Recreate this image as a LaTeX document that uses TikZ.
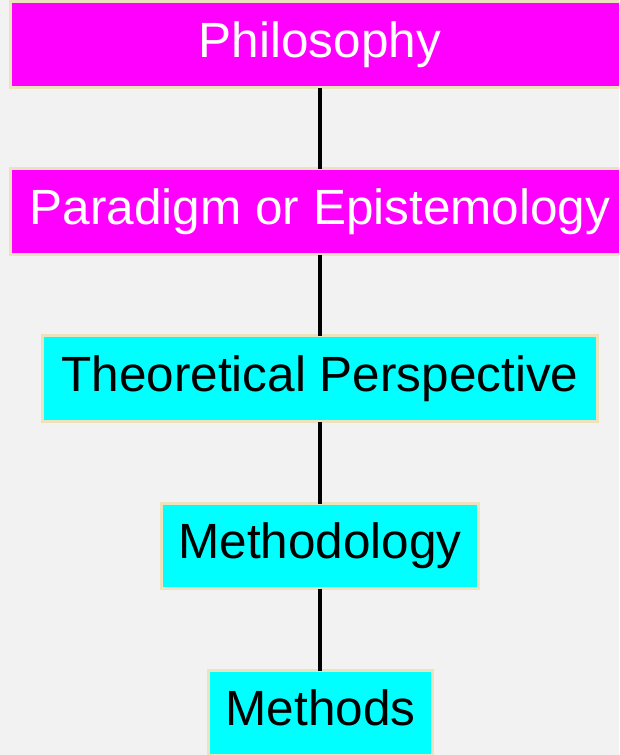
\documentclass[tikz,border=0pt]{standalone}
\usepackage{fontspec}
\setmainfont{Liberation Sans}
\definecolor{bg}{RGB}{242,242,242}
\definecolor{edgebeige}{RGB}{236,226,190}
\definecolor{mag}{RGB}{255,0,255}
\definecolor{cyn}{RGB}{0,255,255}
\begin{document}
\begin{tikzpicture}[x=1pt,y=-1pt,
  levelbox/.style={draw=edgebeige, line width=3pt, rectangle, outer sep=0pt, inner sep=0pt,
    text height=35pt, text depth=10pt,
    font=\fontsize{49.5}{59}\selectfont},
  magbox/.style={levelbox, fill=mag, text=white},
  cynbox/.style={levelbox, fill=cyn, text=black},
  link/.style={draw=black, line width=4pt}]
\useasboundingbox (0,0) rectangle (619,755);
\clip (0,0) rectangle (619,755);
\fill[bg] (0,0) rectangle (619,755);
\node[magbox, minimum width=619pt, minimum height=86pt] (phil) at (320,44.5) {Philosophy};
\node[magbox, minimum width=619pt, minimum height=86pt] (para) at (320,211.5) {Paradigm or Epistemology};
\node[cynbox, minimum width=555pt, minimum height=86pt] (theo) at (320,378.5) {Theoretical Perspective};
\node[cynbox, minimum width=317pt, minimum height=85pt] (meth) at (320,546) {Methodology};
\node[cynbox, minimum width=224pt, minimum height=85pt] (mets) at (320.5,713) {Methods};
\draw[link] (phil.south) -- (para.north);
\draw[link] (para.south) -- (theo.north);
\draw[link] (theo.south) -- (meth.north);
\draw[link] (meth.south) -- (meth.south |- mets.north);
\end{tikzpicture}
\end{document}
